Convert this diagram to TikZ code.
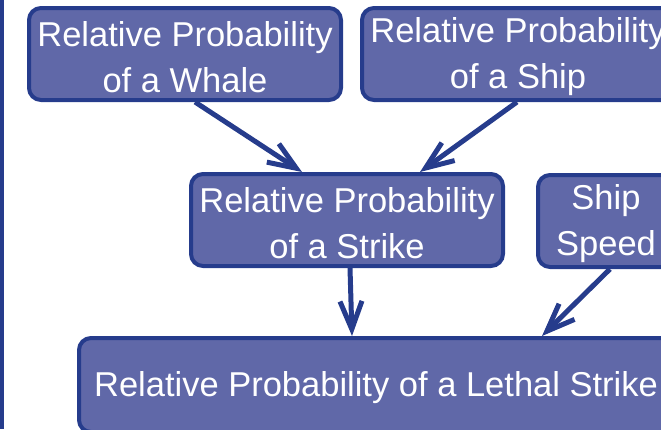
\documentclass[tikz,border=0pt]{standalone}
\usepackage{fontspec}
\setmainfont{Liberation Sans}
\usetikzlibrary{arrows.meta, positioning}
\definecolor{boxfill}{RGB}{96,104,168}
\definecolor{boxline}{RGB}{38,60,140}
\newcommand{\boxstrut}{\rule{0pt}{31pt}}

\begin{document}
\begin{tikzpicture}[
      x=1pt, y=-1pt,
      box/.style={rectangle, draw=boxline, fill=boxfill, line width=4pt,
                  rounded corners=12pt, text=white, inner sep=0pt,
                  font=\fontsize{34.5}{46}\selectfont, align=center,
                  minimum height=92pt},
      arr/.style={-{Straight Barb[length=28pt, width=22pt, line width=5pt]},
                  line width=5pt, draw=boxline}
    ]
    \useasboundingbox (0,0) rectangle (661,429);
    \clip (0,0) rectangle (661,429);
    \draw[boxline, line width=3.5pt] (1.75,0) -- (1.75,429);
    \node[box, minimum width=312pt] (whale)  at (185,54)  {\boxstrut Relative Probability\\of a Whale};
    \node[box, minimum width=312pt] (ship)   at (518,54)  {\boxstrut Relative Probability\\of a Ship};
    \node[box, minimum width=312pt] (strike) at (347,220) {\boxstrut Relative Probability\\of a Strike};
    \node[box, minimum width=136pt] (speed)  at (606,221) {\boxstrut Ship\\Speed};
    \node[box, minimum width=594pt, minimum height=94pt] (lethal) at (376,385)
         {\boxstrut Relative Probability of a Lethal Strike};
    \draw[arr] ([xshift=10pt]whale.south) -- ([xshift=-45pt]strike.north);
    \draw[arr] ([xshift=-1pt]ship.south) -- ([xshift=73pt]strike.north);
    \draw[arr] ([xshift=3pt]strike.south) -- ([xshift=-24pt]lethal.north);
    \draw[arr] ([xshift=4pt]speed.south) -- ([xshift=166pt]lethal.north);
  \end{tikzpicture}
\end{document}
